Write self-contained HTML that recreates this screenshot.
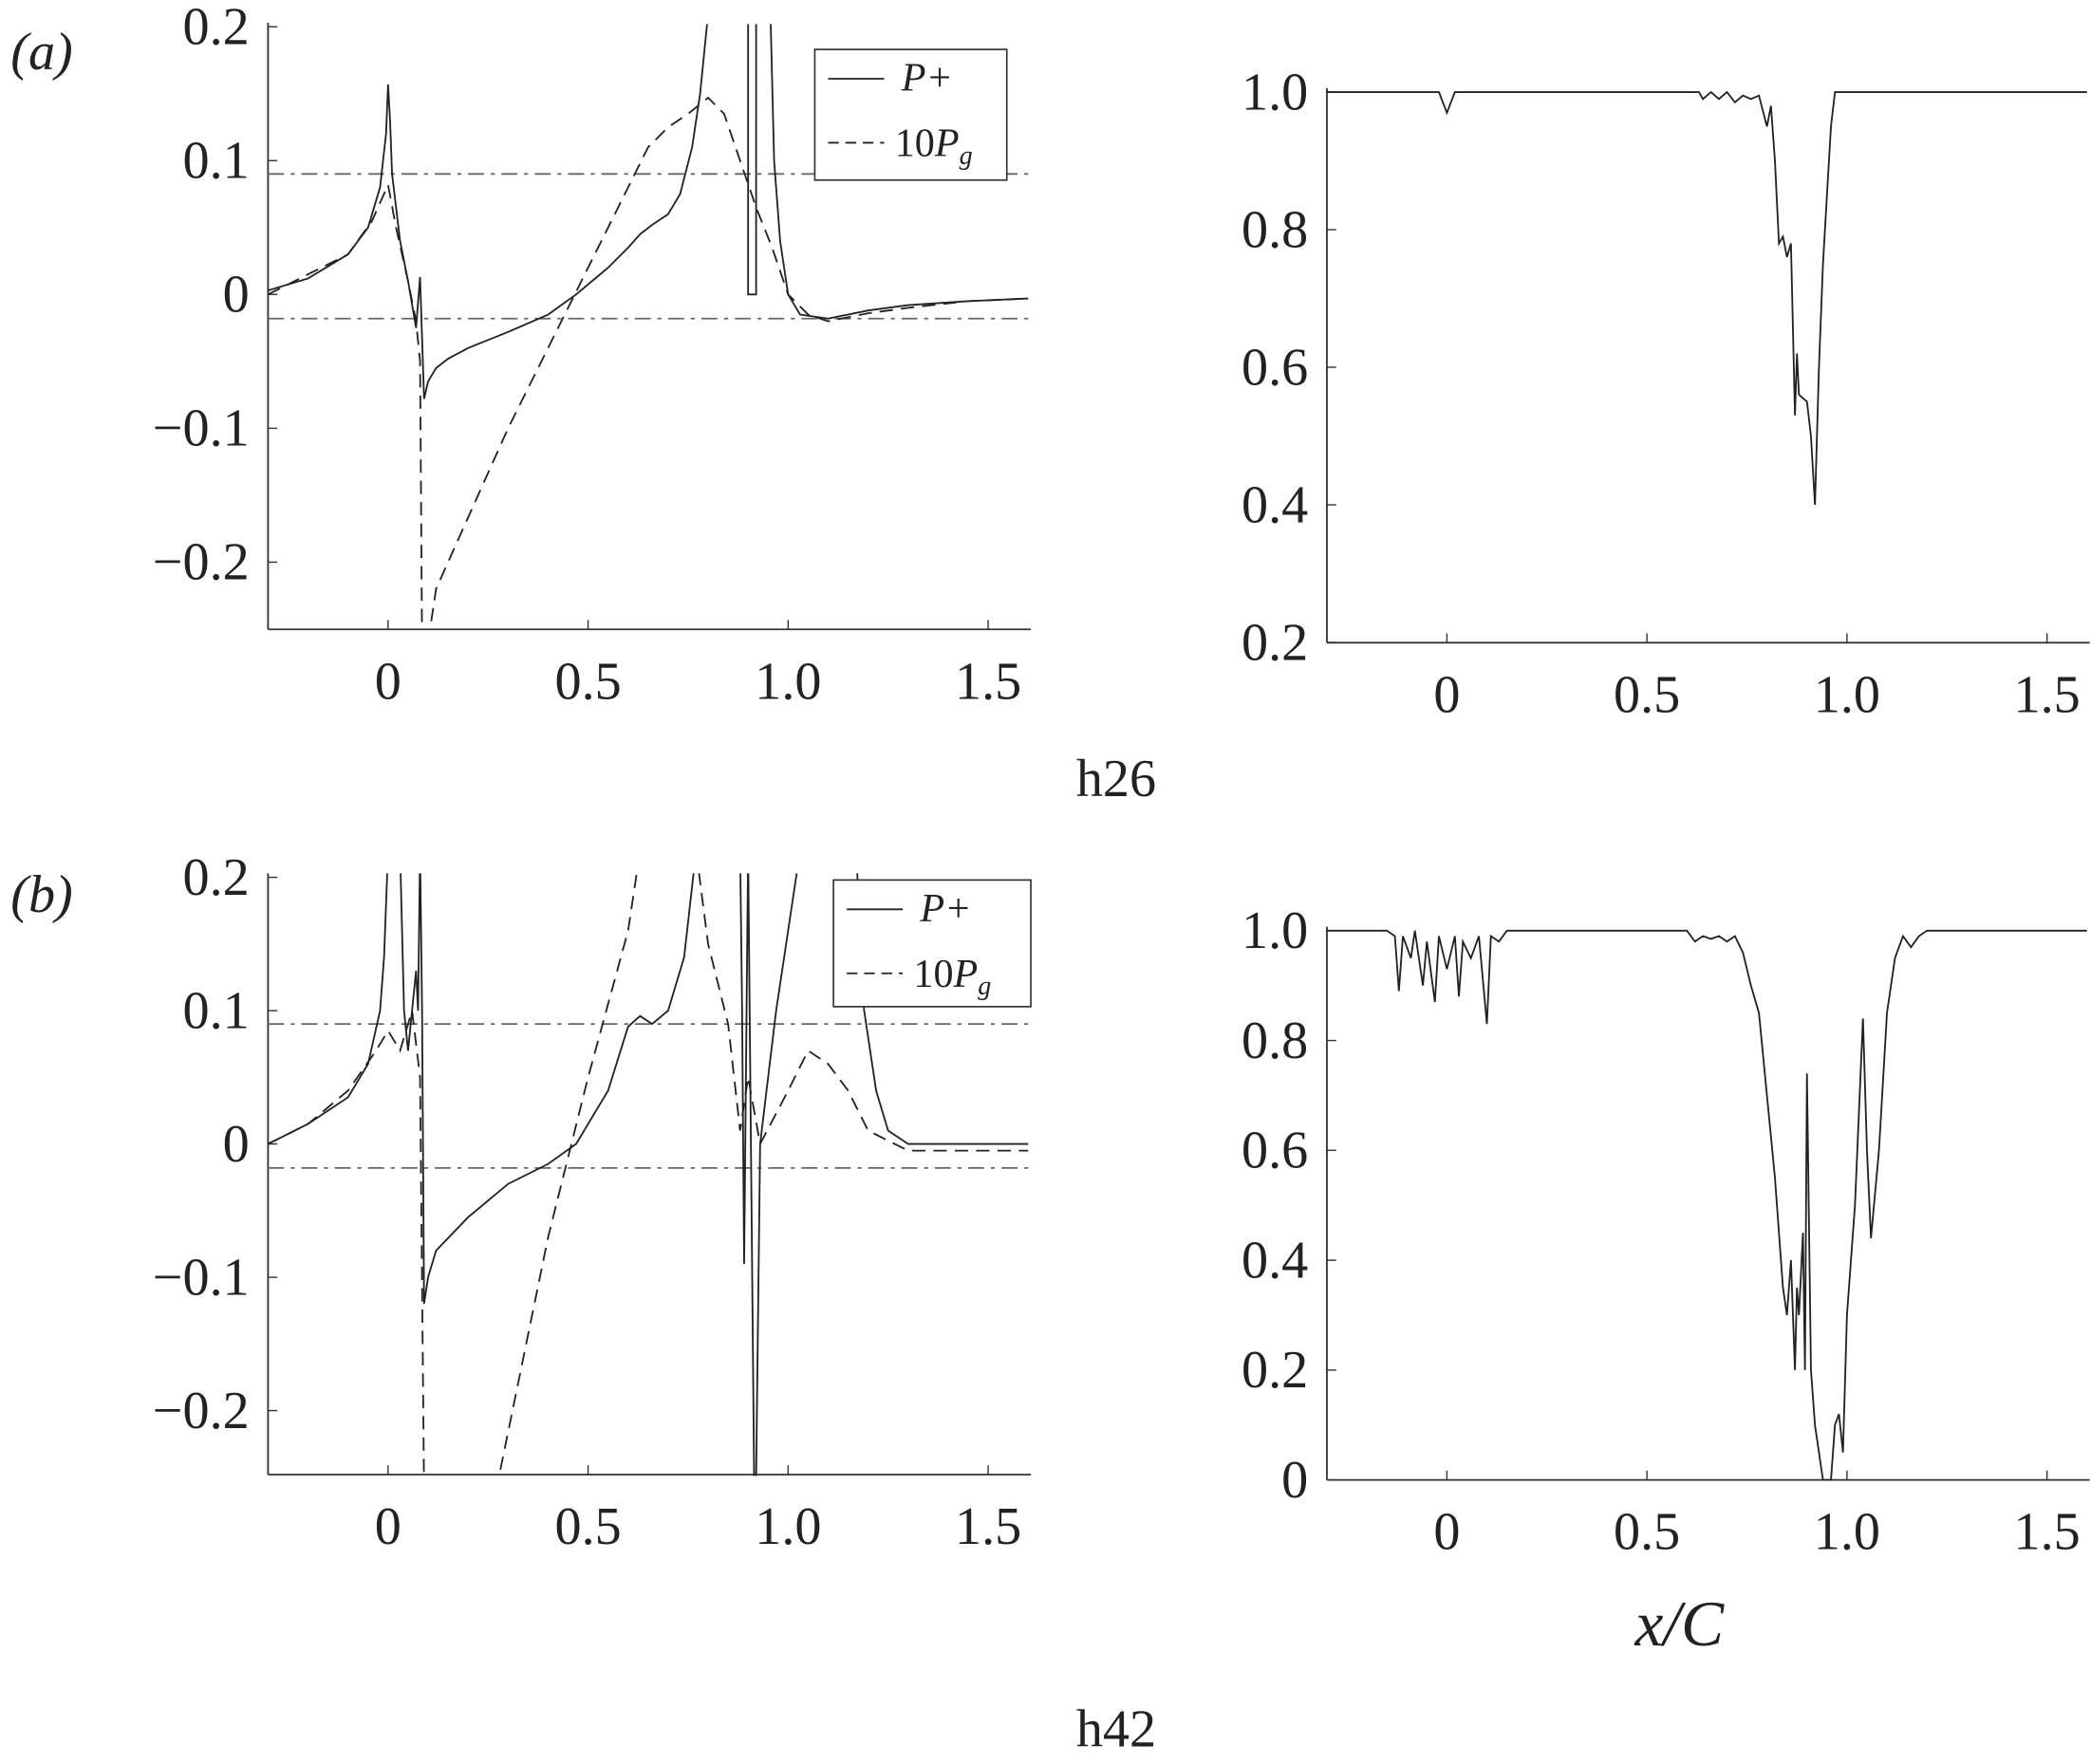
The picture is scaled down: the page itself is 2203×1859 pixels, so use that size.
<!DOCTYPE html>
<html><head><meta charset="utf-8"><style>
html,body{margin:0;padding:0;background:#fff}
svg{display:block}
text{font-family:"Liberation Serif",serif;fill:#222}
</style></head><body>
<svg id="s" width="2203" height="1859" viewBox="0 0 1568 1323" xmlns="http://www.w3.org/2000/svg">
<defs>
<clipPath id="ca"><rect x="201" y="18" width="572" height="454"/></clipPath>
<clipPath id="cb"><rect x="201" y="655" width="572" height="452"/></clipPath>
<clipPath id="cc"><rect x="995" y="40" width="572" height="442"/></clipPath>
<clipPath id="cd"><rect x="995" y="670" width="572" height="441"/></clipPath>
</defs>
<g id="g"></g>
<text x="8" y="52" font-size="40" font-style="italic">(a)</text>
<text x="8" y="684" font-size="40" font-style="italic">(b)</text>
<text x="807" y="597" font-size="40">h26</text>
<text x="807" y="1310" font-size="40">h42</text>
<text x="1226" y="1234" font-size="48" font-style="italic">x/C</text>
</svg>
<script>
const NS="http://www.w3.org/2000/svg",G=document.getElementById('g');
function el(t,a,txt){const e=document.createElementNS(NS,t);for(const k in a)e.setAttribute(k,a[k]);if(txt!=null)e.textContent=txt;G.appendChild(e);return e;}
function panel(p){
 const X=x=>p.x0+(x+0.3)*300, Y=y=>p.yTop+(p.ymax-y)*p.sy;
 el('line',{x1:p.x0,y1:p.yTop-3,x2:p.x0,y2:p.yBot,stroke:'#333','stroke-width':1.3});
 el('line',{x1:p.x0,y1:p.yBot,x2:p.x0+572,y2:p.yBot,stroke:'#333','stroke-width':1.3});
 [[0,'0'],[0.5,'0.5'],[1,'1.0'],[1.5,'1.5']].forEach(([v,s])=>{el('line',{x1:X(v),y1:p.yBot,x2:X(v),y2:p.yBot-7,stroke:'#333'});el('text',{x:X(v),y:p.yBot+52,'font-size':40,'text-anchor':'middle'},s);});
 p.yt.forEach(([v,s])=>{el('line',{x1:p.x0,y1:Y(v),x2:p.x0+7,y2:Y(v),stroke:'#333'});el('text',{x:p.x0-14,y:Y(v)+13,'font-size':40,'text-anchor':'end'},s);});
 p.series.forEach(sr=>{sr.pts.forEach(seg=>{el('path',{d:seg.map((q,i)=>(i?'L':'M')+X(q[0]).toFixed(1)+' '+Y(q[1]).toFixed(1)).join(''),fill:'none',stroke:sr.c||'#222','stroke-width':sr.w||1.3,'stroke-dasharray':sr.d||'','clip-path':'url(#'+p.clip+')'});});});
}
const dd='12,5,3,5';
const hl=[{pts:[[[-0.3,0.09],[1.6,0.09]],[[-0.3,-0.018],[1.6,-0.018]]],d:dd,c:'#666'}];
panel({x0:201,yTop:20,yBot:472,ymax:0.2,sy:1004,clip:'ca',yt:[[0.2,'0.2'],[0.1,'0.1'],[0,'0'],[-0.1,'−0.1'],[-0.2,'−0.2']],
series:hl.concat([
{pts:[[[-0.3,0.003],[-0.2,0.012],[-0.1,0.03],[-0.05,0.05],[-0.02,0.08],[-0.005,0.12],[0,0.157],[0.005,0.13],[0.01,0.09],[0.03,0.04],[0.05,0.01],[0.07,-0.025],[0.08,0.013],[0.09,-0.078],[0.1,-0.065],[0.12,-0.055],[0.15,-0.048],[0.2,-0.04],[0.3,-0.028],[0.4,-0.015],[0.47,0],[0.55,0.02],[0.6,0.035],[0.63,0.045],[0.66,0.052],[0.7,0.06],[0.73,0.075],[0.76,0.11],[0.78,0.15],[0.8,0.21]],
[[0.9,0.22],[0.9,0.0],[0.92,0.0],[0.92,0.22]],[[0.955,0.22],[0.965,0.1],[0.98,0.04],[1.0,0.0],[1.03,-0.015],[1.1,-0.018],[1.2,-0.012],[1.3,-0.008],[1.45,-0.005],[1.6,-0.003]]]},
{d:'10,6',pts:[[[-0.3,0.0],[-0.2,0.015],[-0.1,0.03],[-0.04,0.055],[0,0.082],[0.02,0.05],[0.05,0.01],[0.07,-0.02],[0.08,-0.05],[0.085,-0.26]],
[[0.1,-0.26],[0.12,-0.22],[0.15,-0.2],[0.3,-0.1],[0.45,-0.01],[0.55,0.05],[0.6,0.08],[0.65,0.11],[0.7,0.125],[0.75,0.135],[0.8,0.147],[0.84,0.135],[0.88,0.1],[0.92,0.065],[0.96,0.035],[1.0,0.0],[1.05,-0.015],[1.1,-0.02],[1.2,-0.014],[1.3,-0.01],[1.45,-0.005],[1.6,-0.003]]]}])});
panel({x0:201,yTop:658,yBot:1106,ymax:0.2,sy:1000,clip:'cb',yt:[[0.2,'0.2'],[0.1,'0.1'],[0,'0'],[-0.1,'−0.1'],[-0.2,'−0.2']],
series:hl.concat([
{pts:[[[-0.3,0.0],[-0.2,0.015],[-0.1,0.035],[-0.05,0.06],[-0.02,0.1],[-0.01,0.14],[0,0.22]],[[0.03,0.22],[0.04,0.1],[0.05,0.07],[0.06,0.1],[0.07,0.13],[0.075,0.1],[0.08,0.22],[0.085,0.1],[0.09,-0.12],[0.1,-0.1],[0.12,-0.08],[0.2,-0.055],[0.3,-0.03],[0.4,-0.015],[0.47,0],[0.55,0.04],[0.6,0.088],[0.63,0.096],[0.66,0.09],[0.7,0.1],[0.74,0.14],[0.77,0.22]],
[[0.88,0.22],[0.885,0.1],[0.89,-0.09],[0.9,0.22],[0.915,-0.25],[0.92,-0.25],[0.93,0.0],[0.95,0.05],[0.97,0.1],[1.0,0.16],[1.03,0.22]],[[1.17,0.22],[1.19,0.1],[1.22,0.04],[1.25,0.01],[1.3,0.0],[1.45,0.0],[1.6,0.0]]]},
{d:'10,6',pts:[[[-0.3,0.0],[-0.2,0.015],[-0.1,0.04],[-0.03,0.07],[0,0.085],[0.03,0.07],[0.06,0.1],[0.08,0.05],[0.09,-0.26]],
[[0.27,-0.26],[0.4,-0.07],[0.5,0.05],[0.6,0.16],[0.63,0.22]],[[0.77,0.22],[0.8,0.15],[0.85,0.09],[0.88,0.01],[0.9,0.05],[0.93,0.0],[1.0,0.04],[1.05,0.07],[1.1,0.06],[1.15,0.04],[1.2,0.01],[1.3,-0.005],[1.6,-0.005]]]}])});
panel({x0:995,yTop:69,yBot:482,ymax:1.0,sy:516,clip:'cc',yt:[[1,'1.0'],[0.8,'0.8'],[0.6,'0.6'],[0.4,'0.4'],[0.2,'0.2']],
series:[{pts:[[[-0.3,1],[-0.02,1],[0,0.97],[0.02,1],[0.63,1],[0.64,0.99],[0.66,1],[0.68,0.99],[0.7,1],[0.72,0.985],[0.74,0.995],[0.76,0.99],[0.78,0.995],[0.8,0.95],[0.81,0.98],[0.82,0.9],[0.83,0.78],[0.84,0.79],[0.85,0.76],[0.86,0.78],[0.87,0.53],[0.875,0.62],[0.88,0.56],[0.9,0.55],[0.91,0.5],[0.92,0.4],[0.93,0.6],[0.94,0.75],[0.95,0.85],[0.96,0.95],[0.97,1],[1.6,1]]]}]});
panel({x0:995,yTop:698,yBot:1110,ymax:1.0,sy:412,clip:'cd',yt:[[1,'1.0'],[0.8,'0.8'],[0.6,'0.6'],[0.4,'0.4'],[0.2,'0.2'],[0,'0']],
series:[{pts:[[[-0.3,1],[-0.15,1],[-0.13,0.99],[-0.12,0.89],[-0.11,0.99],[-0.09,0.95],[-0.08,1],[-0.06,0.9],[-0.05,0.98],[-0.03,0.87],[-0.02,0.99],[0,0.93],[0.02,0.99],[0.03,0.88],[0.04,0.98],[0.06,0.95],[0.08,0.99],[0.1,0.83],[0.11,0.99],[0.13,0.98],[0.15,1],[0.6,1],[0.62,0.98],[0.64,0.99],[0.66,0.985],[0.68,0.99],[0.7,0.98],[0.72,0.99],[0.74,0.96],[0.76,0.9],[0.78,0.85],[0.8,0.7],[0.82,0.55],[0.84,0.35],[0.85,0.3],[0.86,0.4],[0.87,0.2],[0.875,0.35],[0.88,0.3],[0.89,0.45],[0.895,0.2],[0.9,0.74],[0.91,0.2],[0.92,0.1],[0.93,0.05],[0.94,0.0],[0.96,0.0],[0.97,0.1],[0.98,0.12],[0.99,0.05],[1.0,0.3],[1.02,0.5],[1.04,0.84],[1.05,0.6],[1.06,0.44],[1.08,0.6],[1.1,0.85],[1.12,0.95],[1.14,0.99],[1.16,0.97],[1.18,0.99],[1.2,1],[1.6,1]]]}]});
function legend(x,y,w,h){el('rect',{x,y,width:w,height:h,fill:'#fff',stroke:'#333','stroke-width':1.2});
 el('line',{x1:x+10,y1:y+22,x2:x+52,y2:y+22,stroke:'#222','stroke-width':1.3});
 el('text',{x:x+65,y:y+31,'font-size':30,'font-style':'italic'},'P+');
 el('line',{x1:x+10,y1:y+70,x2:x+52,y2:y+70,stroke:'#222','stroke-width':1.3,'stroke-dasharray':'8,5'});
 const t=el('text',{x:x+60,y:y+80,'font-size':30},'10');const ts=document.createElementNS(NS,'tspan');ts.setAttribute('font-style','italic');ts.textContent='P';t.appendChild(ts);
 const s2=document.createElementNS(NS,'tspan');s2.setAttribute('font-size','20');s2.setAttribute('dy','6');s2.setAttribute('font-style','italic');s2.textContent='g';t.appendChild(s2);}
legend(611,37,144,98);legend(625,660,148,95);
</script>
</body></html>
